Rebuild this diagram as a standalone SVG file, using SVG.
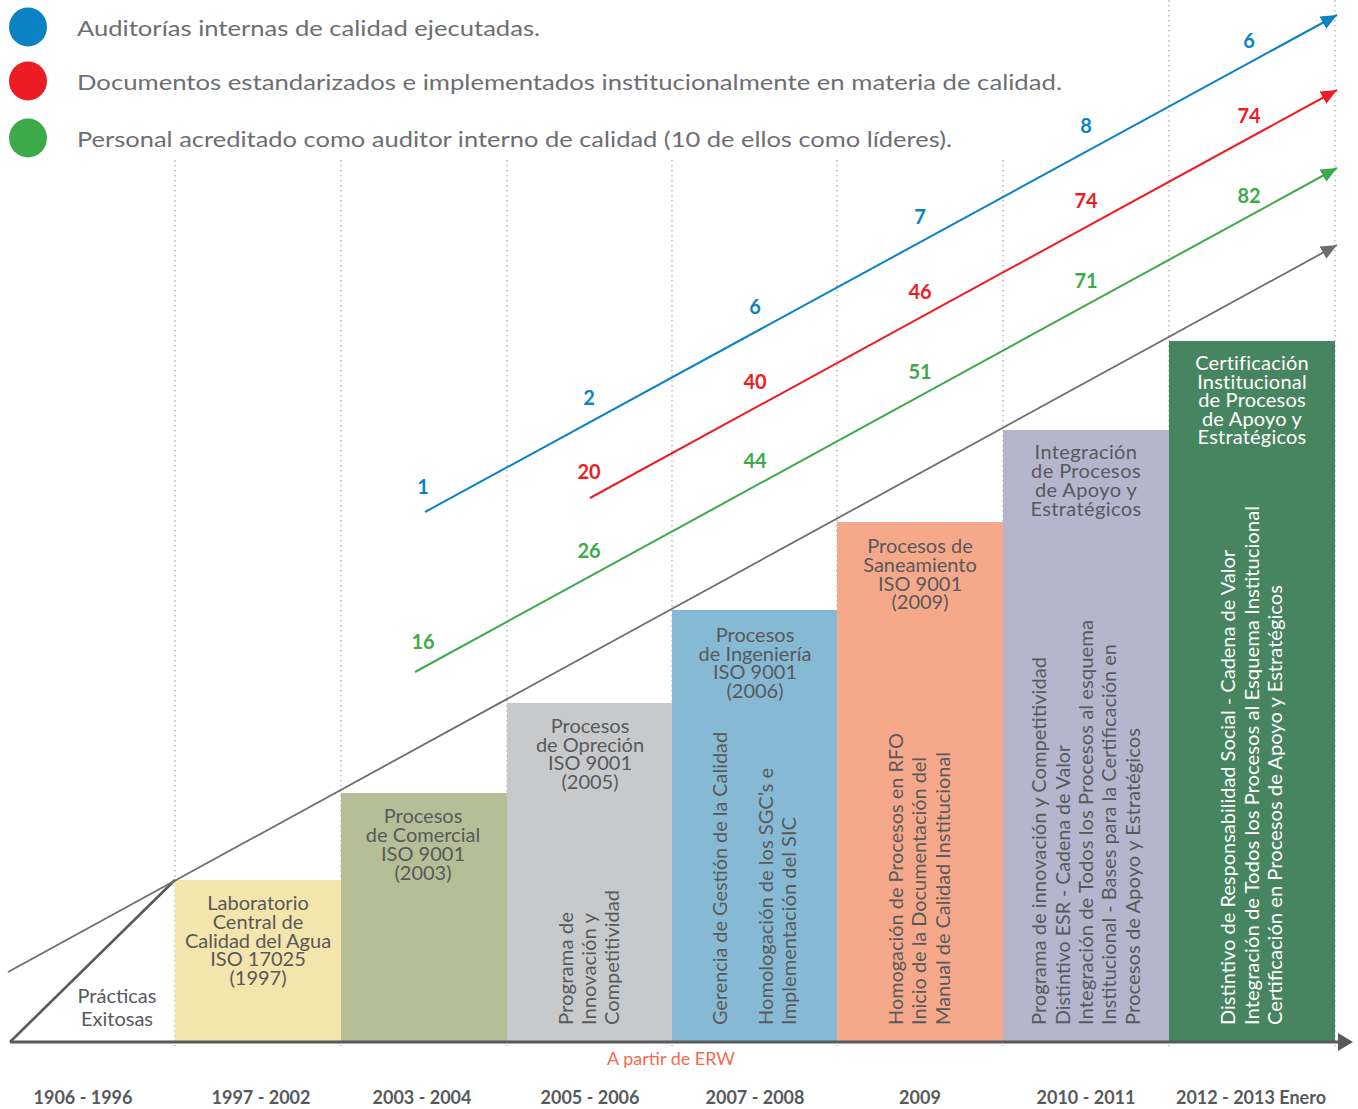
<svg xmlns="http://www.w3.org/2000/svg" width="1358" height="1109" viewBox="0 0 1358 1109">
<style>
  .leg{font-family:Lato,"Open Sans",sans-serif;font-size:22px;fill:#6d6e71}
  .ttl{font-family:Lato,"Open Sans",sans-serif;font-size:20px;fill:#58595b;text-anchor:middle}
  .vt{font-family:Lato,"Open Sans",sans-serif;font-size:19px;fill:#58595b}
  .wt{fill:#ffffff}
  .yr{font-family:Lato,"Open Sans",sans-serif;font-size:18px;font-weight:bold;fill:#58595b;text-anchor:middle}
  .num{font-family:Lato,"Open Sans",sans-serif;font-size:20px;font-weight:bold;text-anchor:middle}
  .nb{fill:#0a82c4}.nr{fill:#ed1c24}.ng{fill:#3daa49}
  .dot{stroke:#bcbec0;stroke-width:1.6;stroke-dasharray:1.6 3.4;fill:none}
</style>
<defs>
  <marker id="ab" markerUnits="userSpaceOnUse" markerWidth="20" markerHeight="20" refX="16" refY="7" orient="auto"><path d="M0,0 L16,7 L0,14 z" fill="#0a82c4"/></marker>
  <marker id="ar" markerUnits="userSpaceOnUse" markerWidth="20" markerHeight="20" refX="16" refY="7" orient="auto"><path d="M0,0 L16,7 L0,14 z" fill="#ed1c24"/></marker>
  <marker id="ag" markerUnits="userSpaceOnUse" markerWidth="20" markerHeight="20" refX="16" refY="7" orient="auto"><path d="M0,0 L16,7 L0,14 z" fill="#3daa49"/></marker>
  <marker id="ak" markerUnits="userSpaceOnUse" markerWidth="20" markerHeight="20" refX="16" refY="7" orient="auto"><path d="M0,0 L16,7 L0,14 z" fill="#6d6e71"/></marker>
</defs>
<rect width="1358" height="1109" fill="#ffffff"/>

<g id="legend">
  <ellipse cx="28" cy="27" rx="19" ry="19.5" fill="#0a82c4"/>
  <ellipse cx="28" cy="81" rx="19" ry="19.5" fill="#ed1c24"/>
  <ellipse cx="28" cy="138" rx="19" ry="19.5" fill="#3daa49"/>
  <text class="leg" x="77" y="36" textLength="463" lengthAdjust="spacingAndGlyphs">Auditorías internas de calidad ejecutadas.</text>
  <text class="leg" x="77" y="90" textLength="985" lengthAdjust="spacingAndGlyphs">Documentos estandarizados e implementados institucionalmente en materia de calidad.</text>
  <text class="leg" x="77" y="147" textLength="875" lengthAdjust="spacingAndGlyphs">Personal acreditado como auditor interno de calidad (10 de ellos como líderes).</text>
</g>

<g id="grid">
  <line class="dot" x1="175" y1="160" x2="175" y2="1046"/>
  <line class="dot" x1="341" y1="160" x2="341" y2="1046"/>
  <line class="dot" x1="507" y1="160" x2="507" y2="1046"/>
  <line class="dot" x1="672" y1="160" x2="672" y2="1046"/>
  <line class="dot" x1="837" y1="160" x2="837" y2="1046"/>
  <line class="dot" x1="1003" y1="160" x2="1003" y2="1046"/>
  <line class="dot" x1="1169" y1="0" x2="1169" y2="1046"/>
  <line class="dot" x1="1335" y1="0" x2="1335" y2="1046"/>
</g>

<g id="col1">
  <rect x="175" y="880" width="166" height="162" fill="#f3e5ab"/>
  <text class="ttl" x="258"><tspan x="258" y="910">Laboratorio</tspan><tspan x="258" y="929">Central de</tspan><tspan x="258" y="948">Calidad del Agua</tspan><tspan x="258" y="966">ISO 17025</tspan><tspan x="258" y="985">(1997)</tspan></text>
</g>
<g id="col2">
  <rect x="341" y="793" width="166" height="249" fill="#b6be97"/>
  <text class="ttl" x="423"><tspan x="423" y="823">Procesos</tspan><tspan x="423" y="842">de Comercial</tspan><tspan x="423" y="861">ISO 9001</tspan><tspan x="423" y="880">(2003)</tspan></text>
</g>
<g id="col3">
  <rect x="507" y="703" width="165" height="339" fill="#c8c9cb"/>
  <text class="ttl" x="590"><tspan x="590" y="733">Procesos</tspan><tspan x="590" y="752">de Opreción</tspan><tspan x="590" y="770">ISO 9001</tspan><tspan x="590" y="789">(2005)</tspan></text>
  <text class="vt" transform="translate(573,1025) rotate(-90)" textLength="113" lengthAdjust="spacingAndGlyphs">Programa de</text>
  <text class="vt" transform="translate(596,1025) rotate(-90)" textLength="112" lengthAdjust="spacingAndGlyphs">Innovación y</text>
  <text class="vt" transform="translate(619,1025) rotate(-90)" textLength="135" lengthAdjust="spacingAndGlyphs">Competitividad</text>
</g>
<g id="col4">
  <rect x="672" y="610" width="165" height="432" fill="#86bad4"/>
  <text class="ttl" x="755"><tspan x="755" y="642">Procesos</tspan><tspan x="755" y="661">de Ingeniería</tspan><tspan x="755" y="679">ISO 9001</tspan><tspan x="755" y="698">(2006)</tspan></text>
  <text class="vt" transform="translate(727,1025) rotate(-90)" textLength="293" lengthAdjust="spacingAndGlyphs">Gerencia de Gestión de la Calidad</text>
  <text class="vt" transform="translate(773,1025) rotate(-90)" textLength="257" lengthAdjust="spacingAndGlyphs">Homologación de los SGC’s e</text>
  <text class="vt" transform="translate(796,1025) rotate(-90)" textLength="208" lengthAdjust="spacingAndGlyphs">Implementación del SIC</text>
</g>
<g id="col5">
  <rect x="837" y="522" width="166" height="520" fill="#f6a98a"/>
  <text class="ttl" x="920"><tspan x="920" y="553">Procesos de</tspan><tspan x="920" y="572">Saneamiento</tspan><tspan x="920" y="591">ISO 9001</tspan><tspan x="920" y="609">(2009)</tspan></text>
  <text class="vt" transform="translate(903,1025) rotate(-90)" textLength="292" lengthAdjust="spacingAndGlyphs">Homogación de Procesos en RFO</text>
  <text class="vt" transform="translate(926,1025) rotate(-90)" textLength="268" lengthAdjust="spacingAndGlyphs">Inicio de la Documentación del</text>
  <text class="vt" transform="translate(950,1025) rotate(-90)" textLength="273" lengthAdjust="spacingAndGlyphs">Manual de Calidad Institucional</text>
</g>
<g id="col6">
  <rect x="1003" y="430" width="166" height="612" fill="#b5b5cd"/>
  <text class="ttl" x="1086" letter-spacing="0.4"><tspan x="1086" y="459">Integración</tspan><tspan x="1086" y="478">de Procesos</tspan><tspan x="1086" y="497">de Apoyo y</tspan><tspan x="1086" y="516">Estratégicos</tspan></text>
  <text class="vt" transform="translate(1046,1025) rotate(-90)" textLength="368" lengthAdjust="spacingAndGlyphs">Programa de innovación y Competitividad</text>
  <text class="vt" transform="translate(1070,1025) rotate(-90)" textLength="280" lengthAdjust="spacingAndGlyphs">Distintivo ESR - Cadena de Valor</text>
  <text class="vt" transform="translate(1093,1025) rotate(-90)" textLength="405" lengthAdjust="spacingAndGlyphs">Integración de Todos los Procesos al esquema</text>
  <text class="vt" transform="translate(1116,1025) rotate(-90)" textLength="381" lengthAdjust="spacingAndGlyphs">Institucional - Bases para la Certificación en</text>
  <text class="vt" transform="translate(1140,1025) rotate(-90)" textLength="297" lengthAdjust="spacingAndGlyphs">Procesos de Apoyo y Estratégicos</text>
</g>
<g id="col7">
  <rect x="1169" y="341" width="166" height="701" fill="#478560"/>
  <text class="ttl wt" x="1252" letter-spacing="0.2"><tspan x="1252" y="370">Certificación</tspan><tspan x="1252" y="389">Institucional</tspan><tspan x="1252" y="407">de Procesos</tspan><tspan x="1252" y="426">de Apoyo y</tspan><tspan x="1252" y="444">Estratégicos</tspan></text>
  <text class="vt wt" transform="translate(1235,1025) rotate(-90)" textLength="475" lengthAdjust="spacingAndGlyphs">Distintivo de Responsabilidad Social - Cadena de Valor</text>
  <text class="vt wt" transform="translate(1259,1025) rotate(-90)" textLength="519" lengthAdjust="spacingAndGlyphs">Integración de Todos los Procesos al Esquema Institucional</text>
  <text class="vt wt" transform="translate(1282,1025) rotate(-90)" textLength="440" lengthAdjust="spacingAndGlyphs">Certificación en Procesos de Apoyo y Estratégicos</text>
</g>

<g id="connectors" fill="none">
  <line x1="10" y1="1042" x2="175" y2="880" stroke="#58595b" stroke-width="2.6"/>
  <line x1="8" y1="972" x2="1337" y2="245" stroke="#6d6e71" stroke-width="1.8" marker-end="url(#ak)"/>
  <line x1="425" y1="512" x2="1337" y2="15" stroke="#0a82c4" stroke-width="2" marker-end="url(#ab)"/>
  <line x1="590" y1="498" x2="1337" y2="90" stroke="#ed1c24" stroke-width="2" marker-end="url(#ar)"/>
  <line x1="415" y1="672" x2="1337" y2="168" stroke="#3daa49" stroke-width="2" marker-end="url(#ag)"/>
  <line x1="10" y1="1042" x2="1340" y2="1042" stroke="#58595b" stroke-width="3"/>
  <path d="M1338,1033 L1353,1042 L1338,1051 z" fill="#58595b"/>
</g>

<g id="numbers">
  <text class="num nb" x="423" y="494">1</text>
  <text class="num nb" x="589" y="405">2</text>
  <text class="num nb" x="755" y="314">6</text>
  <text class="num nb" x="920" y="224">7</text>
  <text class="num nb" x="1086" y="133">8</text>
  <text class="num nb" x="1249" y="48">6</text>
  <text class="num nr" x="589" y="479">20</text>
  <text class="num nr" x="755" y="389">40</text>
  <text class="num nr" x="920" y="299">46</text>
  <text class="num nr" x="1086" y="208">74</text>
  <text class="num nr" x="1249" y="123">74</text>
  <text class="num ng" x="423" y="649">16</text>
  <text class="num ng" x="589" y="558">26</text>
  <text class="num ng" x="755" y="468">44</text>
  <text class="num ng" x="920" y="379">51</text>
  <text class="num ng" x="1086" y="288">71</text>
  <text class="num ng" x="1249" y="203">82</text>
</g>

<g id="practicas">
  <text class="ttl" x="117"><tspan x="117" y="1003">Prácticas</tspan><tspan x="117" y="1026">Exitosas</tspan></text>
</g>

<text x="671" y="1065" font-family="Lato,'Open Sans',sans-serif" font-size="18" fill="#f26b4f" text-anchor="middle">A partir de ERW</text>

<g id="years">
  <text class="yr" x="83" y="1104">1906 - 1996</text>
  <text class="yr" x="261" y="1104">1997 - 2002</text>
  <text class="yr" x="422" y="1104">2003 - 2004</text>
  <text class="yr" x="590" y="1104">2005 - 2006</text>
  <text class="yr" x="755" y="1104">2007 - 2008</text>
  <text class="yr" x="920" y="1104">2009</text>
  <text class="yr" x="1086" y="1104">2010 - 2011</text>
  <text class="yr" x="1251" y="1104">2012 - 2013 Enero</text>
</g>
</svg>
